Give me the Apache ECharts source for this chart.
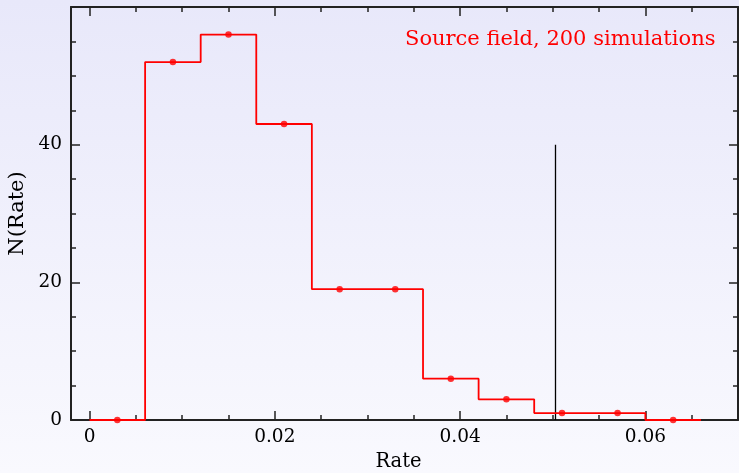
<!DOCTYPE html>
<html>
<head>
<meta charset="utf-8">
<script src="https://cdn.jsdelivr.net/npm/echarts@6/dist/echarts.min.js"></script>
<style>
  html, body { margin: 0; padding: 0; }
  #chart {
    width: 739px;
    height: 473px;
    background: linear-gradient(to bottom, #e8e8fa 0%, #f9f9fe 100%);
  }
</style>
</head>
<body>
<div id="chart"></div>
<script>
// histogram bins (left edges) and counts
const binEdges = [0, 0.006, 0.012, 0.018, 0.024, 0.03, 0.036, 0.042, 0.048, 0.054, 0.06, 0.066];
const counts = [0, 52, 56, 43, 19, 19, 6, 3, 1, 1, 0];
// observed rate marker
const observedRate = 0.0503;
const markerHeight = 40;
// axis ticks
const xMajorTicks = [0, 0.02, 0.04, 0.06];
const xMinorTicks = [0.005, 0.01, 0.015, 0.025, 0.03, 0.035, 0.045, 0.05, 0.055, 0.065];
const yMajorTicks = [0, 20, 40];
const yMinorTicks = [5, 10, 15, 25, 30, 35, 45, 50, 55];

const font = 'DejaVu Serif';

// step outline: each bin edge with its count, closing at the last edge
const stepData = counts.map((c, i) => [binEdges[i], c]);
stepData.push([binEdges[counts.length], counts[counts.length - 1]]);
const centers = counts.map((c, i) => [(binEdges[i] + binEdges[i + 1]) / 2, c]);

const chart = echarts.init(document.getElementById('chart'), null, { renderer: 'canvas' });

const axisStyle = { color: '#222', width: 2 };
const tickStyle = { color: '#222', width: 1.5 };
const xBase = { type: 'value', min: -0.002, max: 0.07, splitLine: { show: false } };
const yBase = { type: 'value', min: 0, max: 60, splitLine: { show: false } };

function tickAxis(base, position, ticks, len, withLine) {
  return Object.assign({}, base, {
    position: position,
    axisLine: { show: withLine, onZero: false, lineStyle: axisStyle },
    axisTick: { inside: true, length: len, customValues: ticks, lineStyle: tickStyle },
    axisLabel: { show: false }
  });
}

chart.setOption({
  backgroundColor: 'transparent',
  animation: false,
  grid: { left: 71, right: 1, top: 7, bottom: 53, outerBoundsMode: 'none' },
  xAxis: [
    Object.assign({}, xBase, {
      position: 'bottom',
      name: 'Rate',
      nameLocation: 'middle',
      nameGap: 28,
      nameTextStyle: { fontFamily: font, fontSize: 19.5, color: '#000', padding: [0, 12, 0, 0] },
      axisLine: { show: true, onZero: false, lineStyle: axisStyle },
      axisTick: { inside: true, length: 9, customValues: xMajorTicks, lineStyle: tickStyle },
      axisLabel: { customValues: xMajorTicks, margin: 8, fontFamily: font, fontSize: 18.5, color: '#000' }
    }),
    tickAxis(xBase, 'bottom', xMinorTicks, 5, false),
    tickAxis(xBase, 'top', xMajorTicks, 9, true),
    tickAxis(xBase, 'top', xMinorTicks, 5, false)
  ],
  yAxis: [
    Object.assign({}, yBase, {
      position: 'left',
      name: 'N(Rate)',
      nameLocation: 'middle',
      nameGap: 42,
      nameTextStyle: { fontFamily: font, fontSize: 21, color: '#000' },
      axisLine: { show: true, onZero: false, lineStyle: axisStyle },
      axisTick: { inside: true, length: 9, customValues: yMajorTicks, lineStyle: tickStyle },
      axisLabel: { customValues: yMajorTicks, margin: 9, fontFamily: font, fontSize: 18.5, color: '#000' }
    }),
    tickAxis(yBase, 'left', yMinorTicks, 5, false),
    tickAxis(yBase, 'right', yMajorTicks, 9, true),
    tickAxis(yBase, 'right', yMinorTicks, 5, false)
  ],
  graphic: [{
    type: 'text',
    left: 405,
    top: 29,
    style: { text: 'Source field, 200 simulations', fill: '#ff0000', font: '21px "DejaVu Serif"' }
  }],
  series: [
    {
      type: 'line',
      step: 'end',
      data: stepData,
      showSymbol: false,
      lineStyle: { color: '#ff0000', width: 1.8 },
      z: 3
    },
    {
      type: 'scatter',
      data: centers,
      symbolSize: 6.5,
      itemStyle: { color: '#ff0000' },
      z: 4
    },
    {
      type: 'line',
      data: [[observedRate, 0], [observedRate, markerHeight]],
      showSymbol: false,
      lineStyle: { color: '#000', width: 1.3 },
      z: 2
    }
  ]
});
</script>
</body>
</html>
